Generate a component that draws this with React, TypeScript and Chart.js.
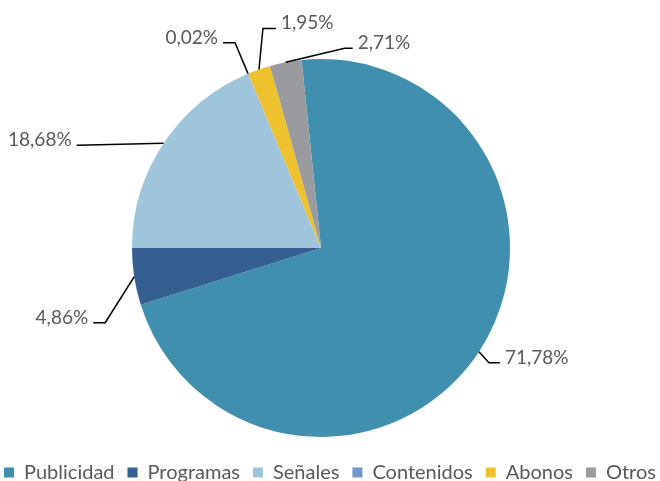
import React, { useEffect, useRef } from 'react';
import { Chart, registerables } from 'chart.js';

Chart.register(...registerables);

// Revenue split by source (percent of total)
const categories = ['Publicidad', 'Programas', 'Señales', 'Contenidos', 'Abonos', 'Otros'];
const shares = [71.78, 4.86, 18.68, 0.02, 1.95, 2.71];
const sliceColors = ['#418FAE', '#355F91', '#9FC5DC', '#7396C8', '#EEC22E', '#9A9B9E'];

// Callout geometry for each slice, relative to the slice's outer mid-point:
// elbow = bend of the leader line, run = horizontal tail after the bend.
const calloutLayout = [
  { elbow: [10, 11], run: 11 },
  { elbow: [-29, 46], run: -12 },
  { elbow: [-86, 2], run: -1 },
  { elbow: [-13, -31], run: -12 },
  { elbow: [4, -41], run: 13 },
  { elbow: [59, -14], run: 8 },
];

const TEXT_COLOR = '#595959';
const FONT_FAMILY = 'Lato, "Open Sans", sans-serif';
const PIE_SHIFT_X = -9;

const formatPct = (v: number) => v.toFixed(2).replace('.', ',') + '%';

const pieShift = {
  id: 'pieShift',
  afterLayout(chart: any) {
    chart.chartArea.left += PIE_SHIFT_X;
    chart.chartArea.right += PIE_SHIFT_X;
  },
};

const callouts = {
  id: 'callouts',
  afterDatasetsDraw(chart: any) {
    const ctx = chart.ctx;
    const meta = chart.getDatasetMeta(0);
    const values = chart.data.datasets[0].data as number[];
    ctx.save();
    ctx.font = `19px ${FONT_FAMILY}`;
    ctx.textBaseline = 'alphabetic';
    meta.data.forEach((arc: any, i: number) => {
      const { x, y, startAngle, endAngle, outerRadius } = arc.getProps(
        ['x', 'y', 'startAngle', 'endAngle', 'outerRadius'],
        true
      );
      const mid = (startAngle + endAngle) / 2;
      const ax = x + Math.cos(mid) * outerRadius;
      const ay = y + Math.sin(mid) * outerRadius;
      const lay = calloutLayout[i];
      const ex = ax + lay.elbow[0];
      const ey = ay + lay.elbow[1];
      const tx = ex + lay.run;
      const toRight = lay.run > 0;

      ctx.strokeStyle = '#000000';
      ctx.lineWidth = 1.5;
      ctx.beginPath();
      ctx.moveTo(ax, ay);
      ctx.lineTo(ex, ey);
      ctx.lineTo(tx, ey);
      ctx.stroke();

      ctx.fillStyle = TEXT_COLOR;
      ctx.textAlign = toRight ? 'left' : 'right';
      ctx.fillText(formatPct(values[i]), toRight ? tx + 5 : tx - 5, ey + 1);
    });
    ctx.restore();
  },
};

export default function App() {
  const canvasRef = useRef<HTMLCanvasElement | null>(null);

  useEffect(() => {
    if (!canvasRef.current) return;
    const chart = new Chart(canvasRef.current, {
      type: 'pie',
      data: {
        labels: categories,
        datasets: [
          {
            data: shares,
            backgroundColor: sliceColors,
            borderWidth: 0,
          },
        ],
      },
      options: {
        responsive: false,
        animation: false,
        rotation: -5.9,
        layout: { padding: { top: 59, bottom: -11.5, left: -10, right: -10 } },
        plugins: {
          tooltip: { enabled: false },
          legend: {
            position: 'bottom',
            align: 'center',
            title: { display: true, text: '', font: { size: 1 }, padding: { top: 11.3, bottom: 0 } },
            labels: {
              boxWidth: 10,
              boxHeight: 10,
              padding: 13,
              color: TEXT_COLOR,
              font: { family: FONT_FAMILY, size: 20 },
            },
          },
        },
      },
      plugins: [pieShift, callouts],
    });
    return () => chart.destroy();
  }, []);

  return (
    <div style={{ position: 'absolute', left: 0, top: 0, width: 660, height: 481, background: '#ffffff' }}>
      <canvas ref={canvasRef} width={660} height={481} />
    </div>
  );
}
